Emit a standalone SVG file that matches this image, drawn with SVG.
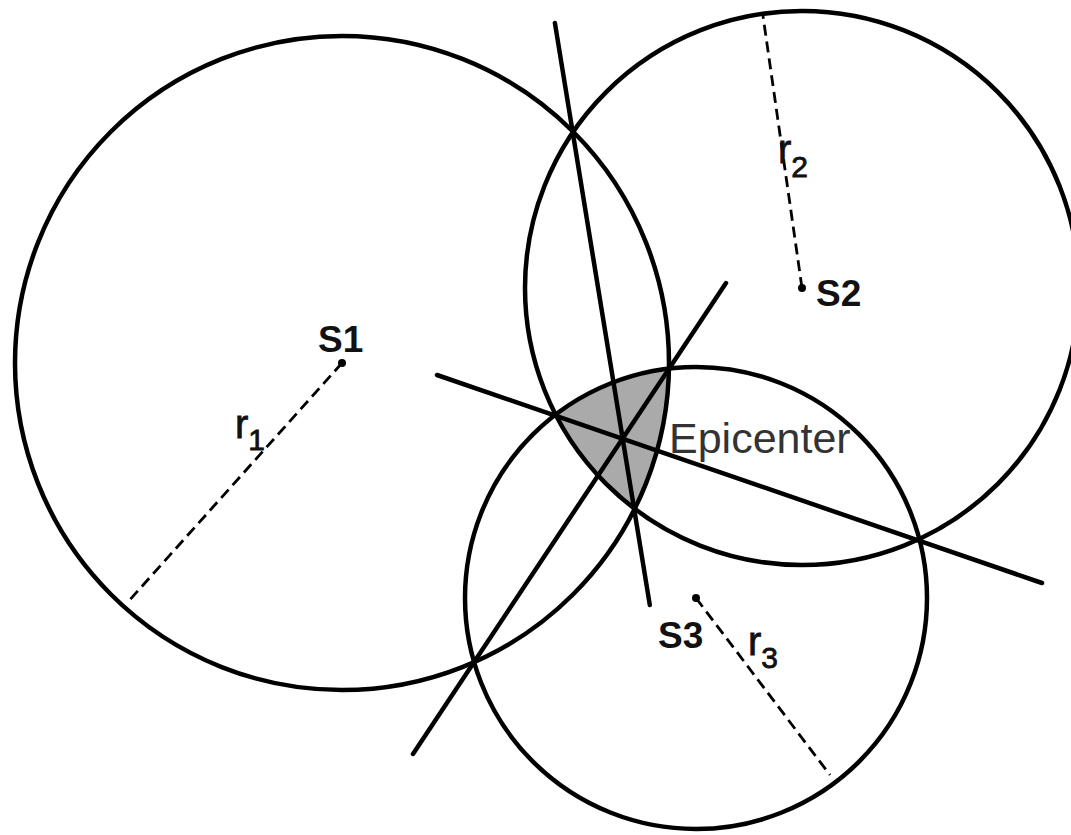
<svg xmlns="http://www.w3.org/2000/svg" width="1071" height="835" viewBox="0 0 1071 835">
<style>
.circ{fill:none;stroke:#000;stroke-width:4.5}
.axis{fill:none;stroke:#000;stroke-width:4.5;stroke-linecap:round}
.rad{fill:none;stroke:#000;stroke-width:2.8;stroke-dasharray:11 6}
.lbl{font-family:"Liberation Sans",Arial,sans-serif;font-weight:bold;font-size:37px;fill:#111}
.r{font-family:"Liberation Sans",Arial,sans-serif;font-size:40px;fill:#111;stroke:#111;stroke-width:0.8}
.sub{font-size:30px}
.epi{font-family:"Liberation Sans",Arial,sans-serif;font-size:43px;fill:#333}
</style>
<rect width="1071" height="835" fill="#fff"/>
<g id="epicenter-region">
<path d="M668.95,368.59 A231,231 0 0 0 554.8,415.18 A278,278 0 0 0 634.25,509.68 A327,327 0 0 0 668.95,368.59 Z" fill="#aaa" stroke="none"/>
</g>
<g id="circle-S1"><circle class="circ" cx="342" cy="363" r="327"/></g>
<g id="circle-S2"><circle class="circ" cx="802" cy="288" r="277"/></g>
<g id="circle-S3"><circle class="circ" cx="696" cy="598" r="231"/></g>
<g id="connectors">
<line class="axis" x1="554.9" y1="23" x2="649.8" y2="605"/>
<line class="axis" x1="437" y1="375" x2="1042" y2="583"/>
<line class="axis" x1="413" y1="754" x2="726" y2="283"/>
<line class="rad" x1="342" y1="363" x2="127" y2="603"/>
<line class="rad" x1="802" y1="288" x2="763" y2="16"/>
<line class="rad" x1="696" y1="598" x2="830" y2="775"/>
</g>
<g id="S1">
<circle cx="342" cy="363" r="4" fill="#000"/>
<text class="lbl" x="318" y="352">S1</text>
</g>
<g id="S2">
<circle cx="802" cy="288" r="4" fill="#000"/>
<text class="lbl" x="816" y="306">S2</text>
</g>
<g id="S3">
<circle cx="696" cy="598" r="4" fill="#000"/>
<text class="lbl" x="658" y="648">S3</text>
</g>
<g id="labels">
<text class="r" x="235" y="438">r<tspan class="sub" dy="12">1</tspan></text>
<text class="r" x="778" y="163">r<tspan class="sub" dy="14">2</tspan></text>
<text class="r" x="748" y="655">r<tspan class="sub" dy="13">3</tspan></text>
<text class="epi" x="669" y="453">Epicenter</text>
</g>
</svg>
